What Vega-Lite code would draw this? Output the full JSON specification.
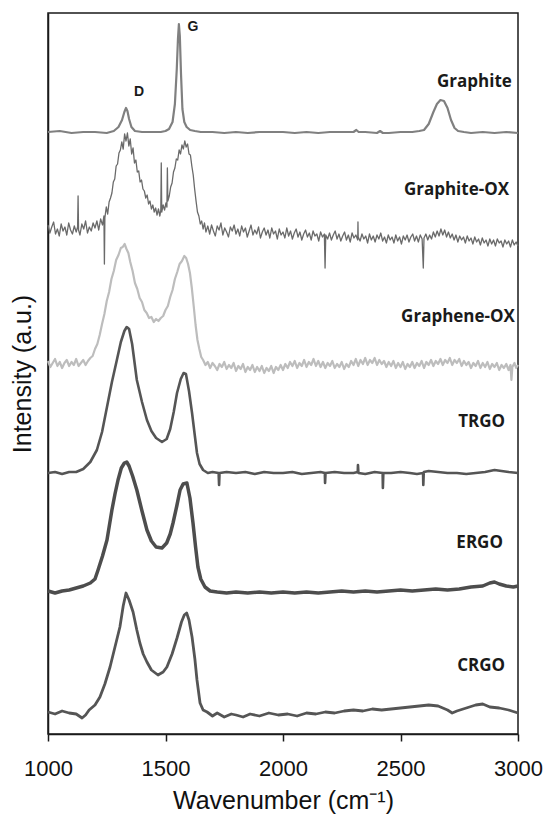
{
  "$schema": "https://vega.github.io/schema/vega-lite/v6.json",
  "width": 470,
  "height": 721,
  "autosize": {"type": "none"},
  "padding": {"left": 48, "top": 13, "right": 31, "bottom": 82},
  "background": "white",
  "config": {
    "view": {"stroke": "#1a1a1a", "strokeWidth": 1.5},
    "axis": {
      "grid": false,
      "domainColor": "#1a1a1a",
      "domainWidth": 1.5,
      "labelFont": "Liberation Sans",
      "titleFont": "Liberation Sans",
      "titleFontWeight": "normal",
      "titleColor": "#111111",
      "labelColor": "#111111"
    }
  },
  "datasets": {
    "graphite": [
      {"wn":1000,"int":602},{"wn":1050,"int":603},{"wn":1100,"int":601},{"wn":1150,"int":602},{"wn":1200,"int":602},{"wn":1250,"int":601},{"wn":1280,"int":603},{"wn":1300,"int":607},{"wn":1315,"int":614},{"wn":1325,"int":622},{"wn":1332,"int":626},{"wn":1338,"int":623},{"wn":1345,"int":615},{"wn":1355,"int":607},{"wn":1370,"int":603},{"wn":1400,"int":602},{"wn":1450,"int":602},{"wn":1480,"int":602},{"wn":1500,"int":603},{"wn":1515,"int":605},{"wn":1530,"int":612},{"wn":1540,"int":630},{"wn":1548,"int":665},{"wn":1553,"int":695},{"wn":1557,"int":710},{"wn":1561,"int":698},{"wn":1566,"int":660},{"wn":1572,"int":625},{"wn":1580,"int":612},{"wn":1590,"int":607},{"wn":1605,"int":604},{"wn":1625,"int":603},{"wn":1650,"int":602},{"wn":1700,"int":602},{"wn":1750,"int":601},{"wn":1800,"int":602},{"wn":1850,"int":601},{"wn":1900,"int":602},{"wn":1950,"int":602},{"wn":2000,"int":602},{"wn":2050,"int":601},{"wn":2100,"int":602},{"wn":2150,"int":601},{"wn":2200,"int":602},{"wn":2250,"int":602},{"wn":2300,"int":602},{"wn":2312,"int":604},{"wn":2322,"int":602},{"wn":2350,"int":602},{"wn":2400,"int":601},{"wn":2413,"int":603},{"wn":2425,"int":601},{"wn":2450,"int":601},{"wn":2500,"int":602},{"wn":2550,"int":602},{"wn":2580,"int":603},{"wn":2600,"int":604},{"wn":2620,"int":610},{"wn":2640,"int":622},{"wn":2655,"int":630},{"wn":2670,"int":634},{"wn":2685,"int":633},{"wn":2700,"int":626},{"wn":2715,"int":614},{"wn":2730,"int":606},{"wn":2745,"int":603},{"wn":2770,"int":602},{"wn":2800,"int":601},{"wn":2850,"int":602},{"wn":2900,"int":601},{"wn":2950,"int":602},{"wn":3000,"int":601}
    ],
    "graphite_ox": [
      {"wn":1000,"int":509},{"wn":1008,"int":501},{"wn":1016,"int":507},{"wn":1024,"int":512},{"wn":1032,"int":500},{"wn":1040,"int":505},{"wn":1048,"int":498},{"wn":1056,"int":510},{"wn":1064,"int":503},{"wn":1072,"int":507},{"wn":1080,"int":499},{"wn":1088,"int":511},{"wn":1096,"int":504},{"wn":1104,"int":500},{"wn":1112,"int":508},{"wn":1120,"int":502},{"wn":1126,"int":507},{"wn":1128,"int":538},{"wn":1130,"int":504},{"wn":1136,"int":499},{"wn":1144,"int":510},{"wn":1152,"int":505},{"wn":1160,"int":513},{"wn":1168,"int":501},{"wn":1176,"int":507},{"wn":1184,"int":503},{"wn":1192,"int":511},{"wn":1200,"int":506},{"wn":1208,"int":513},{"wn":1216,"int":504},{"wn":1224,"int":515},{"wn":1232,"int":509},{"wn":1238,"int":518},{"wn":1240,"int":470},{"wn":1242,"int":516},{"wn":1248,"int":527},{"wn":1254,"int":520},{"wn":1260,"int":532},{"wn":1266,"int":536},{"wn":1272,"int":541},{"wn":1278,"int":552},{"wn":1284,"int":555},{"wn":1290,"int":568},{"wn":1296,"int":570},{"wn":1302,"int":581},{"wn":1308,"int":584},{"wn":1314,"int":592},{"wn":1320,"int":585},{"wn":1326,"int":600},{"wn":1332,"int":593},{"wn":1338,"int":601},{"wn":1344,"int":588},{"wn":1350,"int":595},{"wn":1356,"int":580},{"wn":1362,"int":586},{"wn":1368,"int":571},{"wn":1374,"int":574},{"wn":1380,"int":562},{"wn":1386,"int":563},{"wn":1392,"int":552},{"wn":1398,"int":554},{"wn":1404,"int":545},{"wn":1410,"int":543},{"wn":1416,"int":536},{"wn":1422,"int":539},{"wn":1428,"int":530},{"wn":1434,"int":533},{"wn":1440,"int":525},{"wn":1446,"int":529},{"wn":1452,"int":522},{"wn":1458,"int":526},{"wn":1464,"int":519},{"wn":1470,"int":525},{"wn":1476,"int":518},{"wn":1480,"int":524},{"wn":1482,"int":571},{"wn":1484,"int":522},{"wn":1490,"int":529},{"wn":1496,"int":524},{"wn":1502,"int":531},{"wn":1506,"int":527},{"wn":1508,"int":566},{"wn":1510,"int":533},{"wn":1516,"int":538},{"wn":1522,"int":547},{"wn":1528,"int":551},{"wn":1534,"int":562},{"wn":1540,"int":566},{"wn":1546,"int":575},{"wn":1552,"int":574},{"wn":1558,"int":584},{"wn":1564,"int":580},{"wn":1570,"int":589},{"wn":1576,"int":585},{"wn":1582,"int":593},{"wn":1588,"int":587},{"wn":1594,"int":590},{"wn":1600,"int":580},{"wn":1606,"int":579},{"wn":1612,"int":568},{"wn":1618,"int":559},{"wn":1624,"int":545},{"wn":1630,"int":533},{"wn":1636,"int":522},{"wn":1642,"int":518},{"wn":1648,"int":510},{"wn":1654,"int":513},{"wn":1660,"int":505},{"wn":1666,"int":511},{"wn":1672,"int":502},{"wn":1680,"int":508},
      {"wn":1688,"int":500},{"wn":1696,"int":509},{"wn":1704,"int":503},{"wn":1712,"int":498},{"wn":1720,"int":508},{"wn":1728,"int":504},{"wn":1736,"int":511},{"wn":1744,"int":499},{"wn":1752,"int":506},{"wn":1760,"int":502},{"wn":1768,"int":497},{"wn":1776,"int":507},{"wn":1784,"int":503},{"wn":1792,"int":509},{"wn":1800,"int":500},{"wn":1808,"int":505},{"wn":1816,"int":498},{"wn":1824,"int":508},{"wn":1832,"int":502},{"wn":1840,"int":506},{"wn":1848,"int":497},{"wn":1856,"int":503},{"wn":1864,"int":509},{"wn":1872,"int":499},{"wn":1880,"int":504},{"wn":1888,"int":500},{"wn":1896,"int":507},{"wn":1904,"int":496},{"wn":1912,"int":502},{"wn":1920,"int":506},{"wn":1928,"int":499},{"wn":1936,"int":504},{"wn":1944,"int":496},{"wn":1952,"int":506},{"wn":1960,"int":500},{"wn":1968,"int":503},{"wn":1976,"int":495},{"wn":1984,"int":505},{"wn":1992,"int":499},{"wn":2000,"int":502},{"wn":2008,"int":496},{"wn":2016,"int":506},{"wn":2024,"int":498},{"wn":2032,"int":503},{"wn":2040,"int":495},{"wn":2048,"int":501},{"wn":2056,"int":505},{"wn":2064,"int":497},{"wn":2072,"int":502},{"wn":2080,"int":494},{"wn":2088,"int":500},{"wn":2096,"int":504},{"wn":2104,"int":497},{"wn":2112,"int":501},{"wn":2120,"int":494},{"wn":2128,"int":503},{"wn":2136,"int":498},{"wn":2144,"int":500},{"wn":2152,"int":493},{"wn":2160,"int":502},{"wn":2168,"int":497},{"wn":2176,"int":500},{"wn":2179,"int":466},{"wn":2182,"int":499},{"wn":2190,"int":495},{"wn":2198,"int":501},{"wn":2206,"int":494},{"wn":2214,"int":499},{"wn":2222,"int":503},{"wn":2230,"int":495},{"wn":2238,"int":500},{"wn":2246,"int":493},{"wn":2254,"int":498},{"wn":2262,"int":502},{"wn":2270,"int":494},{"wn":2278,"int":499},{"wn":2286,"int":492},{"wn":2294,"int":501},{"wn":2302,"int":496},{"wn":2310,"int":499},{"wn":2318,"int":494},{"wn":2319,"int":512},{"wn":2320,"int":497},{"wn":2328,"int":493},{"wn":2336,"int":500},{"wn":2344,"int":495},{"wn":2352,"int":498},{"wn":2360,"int":491},{"wn":2368,"int":500},{"wn":2376,"int":494},{"wn":2384,"int":498},{"wn":2392,"int":492},{"wn":2400,"int":499},{"wn":2408,"int":495},{"wn":2416,"int":501},{"wn":2424,"int":493},{"wn":2432,"int":497},{"wn":2440,"int":491},{"wn":2448,"int":499},{"wn":2456,"int":494},{"wn":2464,"int":497},{"wn":2472,"int":491},{"wn":2480,"int":499},{"wn":2488,"int":493},{"wn":2496,"int":497},{"wn":2504,"int":490},{"wn":2512,"int":498},{"wn":2520,"int":494},{"wn":2528,"int":499},{"wn":2536,"int":492},{"wn":2544,"int":497},{"wn":2552,"int":500},{"wn":2560,"int":493},{"wn":2568,"int":498},{"wn":2576,"int":492},{"wn":2584,"int":499},{"wn":2592,"int":495},{"wn":2597,"int":466},{"wn":2600,"int":496},{"wn":2608,"int":500},{"wn":2616,"int":494},{"wn":2624,"int":499},{"wn":2632,"int":495},{"wn":2640,"int":502},{"wn":2648,"int":497},{"wn":2656,"int":503},{"wn":2664,"int":498},{"wn":2672,"int":505},{"wn":2680,"int":499},{"wn":2688,"int":504},{"wn":2696,"int":497},{"wn":2704,"int":502},{"wn":2712,"int":496},{"wn":2720,"int":500},{"wn":2728,"int":494},{"wn":2736,"int":499},{"wn":2744,"int":492},{"wn":2752,"int":498},{"wn":2760,"int":494},{"wn":2768,"int":497},{"wn":2776,"int":491},{"wn":2784,"int":498},{"wn":2792,"int":493},{"wn":2800,"int":496},{"wn":2808,"int":490},{"wn":2816,"int":497},{"wn":2824,"int":492},{"wn":2832,"int":495},{"wn":2840,"int":489},{"wn":2848,"int":496},{"wn":2856,"int":491},{"wn":2864,"int":494},{"wn":2872,"int":488},{"wn":2880,"int":495},{"wn":2888,"int":490},{"wn":2896,"int":494},{"wn":2904,"int":488},{"wn":2912,"int":495},{"wn":2920,"int":491},{"wn":2928,"int":493},{"wn":2936,"int":487},{"wn":2944,"int":494},{"wn":2952,"int":490},{"wn":2960,"int":493},{"wn":2968,"int":487},{"wn":2976,"int":494},{"wn":2984,"int":489},{"wn":2992,"int":492},{"wn":3000,"int":488}
    ],
    "graphene_ox": [
      {"wn":1000,"int":373},{"wn":1010,"int":367},{"wn":1020,"int":371},{"wn":1030,"int":375},{"wn":1040,"int":368},{"wn":1050,"int":372},{"wn":1060,"int":366},{"wn":1070,"int":371},{"wn":1080,"int":374},{"wn":1090,"int":368},{"wn":1100,"int":372},{"wn":1110,"int":369},{"wn":1120,"int":375},{"wn":1130,"int":368},{"wn":1140,"int":371},{"wn":1150,"int":374},{"wn":1160,"int":369},{"wn":1170,"int":373},{"wn":1180,"int":376},{"wn":1190,"int":378},{"wn":1200,"int":385},{"wn":1210,"int":390},{"wn":1220,"int":399},{"wn":1230,"int":410},{"wn":1240,"int":420},{"wn":1250,"int":433},{"wn":1260,"int":442},{"wn":1270,"int":455},{"wn":1280,"int":463},{"wn":1290,"int":474},{"wn":1300,"int":479},{"wn":1310,"int":486},{"wn":1318,"int":487},{"wn":1326,"int":490},{"wn":1334,"int":485},{"wn":1342,"int":481},{"wn":1350,"int":472},{"wn":1360,"int":463},{"wn":1370,"int":451},{"wn":1380,"int":445},{"wn":1390,"int":436},{"wn":1400,"int":432},{"wn":1410,"int":424},{"wn":1420,"int":421},{"wn":1430,"int":416},{"wn":1440,"int":417},{"wn":1450,"int":412},{"wn":1460,"int":415},{"wn":1470,"int":413},{"wn":1480,"int":416},{"wn":1490,"int":418},{"wn":1500,"int":424},{"wn":1510,"int":428},{"wn":1520,"int":437},{"wn":1530,"int":444},{"wn":1540,"int":455},{"wn":1550,"int":462},{"wn":1560,"int":470},{"wn":1570,"int":473},{"wn":1580,"int":478},{"wn":1588,"int":476},{"wn":1596,"int":470},{"wn":1604,"int":461},{"wn":1612,"int":446},{"wn":1620,"int":428},{"wn":1628,"int":409},{"wn":1636,"int":394},{"wn":1644,"int":385},{"wn":1652,"int":377},{"wn":1660,"int":374},{"wn":1670,"int":369},{"wn":1680,"int":372},
      {"wn":1690,"int":366},{"wn":1700,"int":371},{"wn":1710,"int":368},{"wn":1720,"int":364},{"wn":1730,"int":370},{"wn":1740,"int":367},{"wn":1750,"int":372},{"wn":1760,"int":365},{"wn":1770,"int":369},{"wn":1780,"int":366},{"wn":1790,"int":371},{"wn":1800,"int":363},{"wn":1810,"int":368},{"wn":1820,"int":365},{"wn":1830,"int":370},{"wn":1840,"int":362},{"wn":1850,"int":367},{"wn":1860,"int":364},{"wn":1870,"int":369},{"wn":1880,"int":362},{"wn":1890,"int":367},{"wn":1900,"int":363},{"wn":1910,"int":368},{"wn":1920,"int":361},{"wn":1930,"int":366},{"wn":1940,"int":363},{"wn":1950,"int":368},{"wn":1960,"int":361},{"wn":1970,"int":367},{"wn":1980,"int":364},{"wn":1990,"int":369},{"wn":2000,"int":364},{"wn":2010,"int":370},{"wn":2020,"int":366},{"wn":2030,"int":372},{"wn":2040,"int":368},{"wn":2050,"int":373},{"wn":2060,"int":366},{"wn":2070,"int":371},{"wn":2080,"int":368},{"wn":2090,"int":374},{"wn":2100,"int":367},{"wn":2110,"int":372},{"wn":2120,"int":369},{"wn":2130,"int":375},{"wn":2140,"int":368},{"wn":2150,"int":373},{"wn":2160,"int":367},{"wn":2170,"int":372},{"wn":2180,"int":366},{"wn":2190,"int":371},{"wn":2200,"int":368},{"wn":2210,"int":373},{"wn":2220,"int":366},{"wn":2230,"int":370},{"wn":2240,"int":367},{"wn":2250,"int":372},{"wn":2260,"int":365},{"wn":2270,"int":370},{"wn":2280,"int":367},{"wn":2290,"int":373},{"wn":2300,"int":369},{"wn":2310,"int":375},{"wn":2320,"int":368},{"wn":2330,"int":374},{"wn":2340,"int":370},{"wn":2350,"int":376},{"wn":2360,"int":369},{"wn":2370,"int":374},{"wn":2380,"int":371},{"wn":2390,"int":376},{"wn":2400,"int":369},{"wn":2410,"int":374},{"wn":2420,"int":370},{"wn":2430,"int":373},{"wn":2440,"int":367},{"wn":2450,"int":372},{"wn":2460,"int":368},{"wn":2470,"int":373},{"wn":2480,"int":366},{"wn":2490,"int":371},{"wn":2500,"int":367},{"wn":2510,"int":372},{"wn":2520,"int":365},{"wn":2530,"int":370},{"wn":2540,"int":367},{"wn":2550,"int":372},{"wn":2560,"int":366},{"wn":2570,"int":371},{"wn":2580,"int":368},{"wn":2590,"int":373},{"wn":2600,"int":366},{"wn":2610,"int":372},{"wn":2620,"int":369},{"wn":2630,"int":374},{"wn":2640,"int":368},{"wn":2650,"int":373},{"wn":2660,"int":370},{"wn":2670,"int":375},{"wn":2680,"int":369},{"wn":2690,"int":374},{"wn":2700,"int":371},{"wn":2710,"int":376},{"wn":2720,"int":369},{"wn":2730,"int":374},{"wn":2740,"int":371},{"wn":2750,"int":375},{"wn":2760,"int":368},{"wn":2770,"int":373},{"wn":2780,"int":369},{"wn":2790,"int":372},{"wn":2800,"int":366},{"wn":2810,"int":371},{"wn":2820,"int":368},{"wn":2830,"int":373},{"wn":2840,"int":366},{"wn":2850,"int":371},{"wn":2860,"int":367},{"wn":2870,"int":372},{"wn":2880,"int":365},{"wn":2890,"int":370},{"wn":2900,"int":367},{"wn":2910,"int":371},{"wn":2920,"int":364},{"wn":2930,"int":369},{"wn":2940,"int":366},{"wn":2950,"int":370},{"wn":2960,"int":364},{"wn":2968,"int":369},{"wn":2972,"int":354},{"wn":2976,"int":367},{"wn":2985,"int":371},{"wn":2992,"int":366},{"wn":3000,"int":369}
    ],
    "trgo": [
      {"wn":1000,"int":261},{"wn":1030,"int":262},{"wn":1060,"int":260},{"wn":1090,"int":262},{"wn":1120,"int":262},{"wn":1150,"int":265},{"wn":1180,"int":272},{"wn":1208,"int":284},{"wn":1230,"int":302},{"wn":1251,"int":327},{"wn":1272,"int":352},{"wn":1293,"int":374},{"wn":1310,"int":392},{"wn":1325,"int":403},{"wn":1335,"int":407},{"wn":1345,"int":405},{"wn":1358,"int":390},{"wn":1378,"int":354},{"wn":1400,"int":332},{"wn":1421,"int":314},{"wn":1440,"int":303},{"wn":1460,"int":296},{"wn":1485,"int":292},{"wn":1505,"int":295},{"wn":1520,"int":305},{"wn":1535,"int":322},{"wn":1549,"int":341},{"wn":1565,"int":355},{"wn":1577,"int":361},{"wn":1587,"int":360},{"wn":1600,"int":343},{"wn":1613,"int":321},{"wn":1625,"int":298},{"wn":1634,"int":281},{"wn":1645,"int":270},{"wn":1660,"int":264},{"wn":1680,"int":261},{"wn":1700,"int":262},{"wn":1726,"int":261},{"wn":1728,"int":249},{"wn":1730,"int":261},{"wn":1760,"int":262},{"wn":1800,"int":261},{"wn":1840,"int":262},{"wn":1880,"int":260},{"wn":1920,"int":262},{"wn":1960,"int":261},{"wn":2000,"int":261},{"wn":2040,"int":262},{"wn":2080,"int":260},{"wn":2120,"int":261},{"wn":2160,"int":262},{"wn":2178,"int":261},{"wn":2179,"int":251},{"wn":2181,"int":261},{"wn":2220,"int":262},{"wn":2260,"int":261},{"wn":2300,"int":261},{"wn":2318,"int":262},{"wn":2319,"int":269},{"wn":2321,"int":261},{"wn":2350,"int":260},{"wn":2390,"int":262},{"wn":2424,"int":261},{"wn":2425,"int":246},{"wn":2427,"int":261},{"wn":2460,"int":261},{"wn":2500,"int":262},{"wn":2540,"int":261},{"wn":2570,"int":260},{"wn":2596,"int":261},{"wn":2597,"int":249},{"wn":2599,"int":262},{"wn":2620,"int":263},{"wn":2660,"int":262},{"wn":2700,"int":261},{"wn":2740,"int":261},{"wn":2780,"int":260},{"wn":2820,"int":261},{"wn":2860,"int":262},{"wn":2900,"int":264},{"wn":2930,"int":263},{"wn":2960,"int":262},{"wn":3000,"int":261}
    ],
    "ergo": [
      {"wn":1000,"int":143},{"wn":1030,"int":141},{"wn":1060,"int":143},{"wn":1090,"int":144},{"wn":1120,"int":146},{"wn":1150,"int":148},{"wn":1180,"int":151},{"wn":1200,"int":155},{"wn":1213,"int":164},{"wn":1232,"int":178},{"wn":1251,"int":194},{"wn":1272,"int":224},{"wn":1285,"int":240},{"wn":1298,"int":254},{"wn":1312,"int":266},{"wn":1325,"int":271},{"wn":1335,"int":272},{"wn":1345,"int":268},{"wn":1360,"int":258},{"wn":1378,"int":244},{"wn":1400,"int":223},{"wn":1421,"int":204},{"wn":1440,"int":193},{"wn":1460,"int":187},{"wn":1485,"int":186},{"wn":1505,"int":191},{"wn":1520,"int":200},{"wn":1532,"int":211},{"wn":1548,"int":228},{"wn":1562,"int":244},{"wn":1575,"int":250},{"wn":1591,"int":251},{"wn":1604,"int":236},{"wn":1617,"int":211},{"wn":1628,"int":187},{"wn":1638,"int":167},{"wn":1650,"int":155},{"wn":1668,"int":147},{"wn":1690,"int":143},{"wn":1720,"int":142},{"wn":1760,"int":141},{"wn":1800,"int":142},{"wn":1850,"int":141},{"wn":1900,"int":142},{"wn":1950,"int":141},{"wn":2000,"int":142},{"wn":2050,"int":141},{"wn":2100,"int":142},{"wn":2150,"int":141},{"wn":2200,"int":142},{"wn":2250,"int":143},{"wn":2300,"int":142},{"wn":2350,"int":143},{"wn":2400,"int":142},{"wn":2450,"int":143},{"wn":2500,"int":144},{"wn":2550,"int":143},{"wn":2600,"int":144},{"wn":2650,"int":145},{"wn":2700,"int":144},{"wn":2750,"int":145},{"wn":2800,"int":147},{"wn":2850,"int":148},{"wn":2880,"int":151},{"wn":2900,"int":152},{"wn":2920,"int":150},{"wn":2950,"int":148},{"wn":2980,"int":147},{"wn":3000,"int":148}
    ],
    "crgo": [
      {"wn":1000,"int":22},{"wn":1030,"int":20},{"wn":1060,"int":23},{"wn":1090,"int":21},{"wn":1120,"int":20},{"wn":1145,"int":16},{"wn":1160,"int":19},{"wn":1175,"int":24},{"wn":1200,"int":29},{"wn":1221,"int":37},{"wn":1242,"int":50},{"wn":1264,"int":67},{"wn":1285,"int":87},{"wn":1306,"int":107},{"wn":1320,"int":128},{"wn":1332,"int":141},{"wn":1345,"int":134},{"wn":1362,"int":122},{"wn":1378,"int":104},{"wn":1391,"int":91},{"wn":1405,"int":80},{"wn":1421,"int":72},{"wn":1440,"int":64},{"wn":1468,"int":59},{"wn":1490,"int":62},{"wn":1506,"int":67},{"wn":1528,"int":80},{"wn":1549,"int":96},{"wn":1568,"int":112},{"wn":1580,"int":119},{"wn":1590,"int":121},{"wn":1600,"int":114},{"wn":1613,"int":97},{"wn":1625,"int":75},{"wn":1634,"int":54},{"wn":1647,"int":31},{"wn":1660,"int":24},{"wn":1677,"int":22},{"wn":1700,"int":18},{"wn":1720,"int":21},{"wn":1750,"int":17},{"wn":1780,"int":20},{"wn":1800,"int":19},{"wn":1830,"int":17},{"wn":1860,"int":20},{"wn":1900,"int":18},{"wn":1940,"int":21},{"wn":1980,"int":19},{"wn":2020,"int":20},{"wn":2060,"int":18},{"wn":2100,"int":21},{"wn":2140,"int":20},{"wn":2180,"int":22},{"wn":2220,"int":21},{"wn":2260,"int":23},{"wn":2300,"int":24},{"wn":2340,"int":23},{"wn":2380,"int":25},{"wn":2420,"int":24},{"wn":2460,"int":25},{"wn":2500,"int":26},{"wn":2540,"int":27},{"wn":2580,"int":28},{"wn":2620,"int":29},{"wn":2660,"int":28},{"wn":2700,"int":24},{"wn":2720,"int":21},{"wn":2740,"int":23},{"wn":2780,"int":26},{"wn":2820,"int":29},{"wn":2850,"int":30},{"wn":2880,"int":27},{"wn":2920,"int":26},{"wn":2960,"int":24},{"wn":3000,"int":21}
    ],
    "sample_labels": [
      {"label":"Graphite","wn":2974,"int":652},
      {"label":"Graphite-OX","wn":2962,"int":544},
      {"label":"Graphene-OX","wn":2987,"int":417},
      {"label":"TRGO","wn":2945,"int":312},
      {"label":"ERGO","wn":2936,"int":191},
      {"label":"CRGO","wn":2945,"int":68}
    ],
    "band_labels": [
      {"label":"D","wn":1387,"int":642},
      {"label":"G","wn":1617,"int":707}
    ]
  },
  "encoding": {
    "x": {
      "field": "wn",
      "type": "quantitative",
      "scale": {"domain": [1000, 3000], "nice": false, "zero": false},
      "title": "Wavenumber (cm⁻¹)",
      "axis": {
        "values": [1000, 1500, 2000, 2500, 3000],
        "format": "d",
        "tickColor": "#1a1a1a",
        "tickWidth": 1.5,
        "tickSize": 7,
        "labelFontSize": 22,
        "labelPadding": 17,
        "labelFlush": false,
        "labelOverlap": false,
        "labelBound": false,
        "titleFontSize": 25,
        "titlePadding": 9
      }
    },
    "y": {
      "field": "int",
      "type": "quantitative",
      "scale": {"domain": [0, 721], "nice": false, "zero": false},
      "title": "Intensity (a.u.)",
      "axis": {
        "labels": false,
        "ticks": false,
        "titleFontSize": 25,
        "titlePadding": 13
      }
    }
  },
  "layer": [
    {"data": {"name": "graphite"}, "mark": {"type": "line", "color": "#808080", "strokeWidth": 2.2, "strokeJoin": "round"}},
    {"data": {"name": "graphite_ox"}, "mark": {"type": "line", "color": "#6a6a6a", "strokeWidth": 1.3, "strokeJoin": "round"}},
    {"data": {"name": "graphene_ox"}, "mark": {"type": "line", "color": "#bdbdbd", "strokeWidth": 2.2, "strokeJoin": "round"}},
    {"data": {"name": "trgo"}, "mark": {"type": "line", "color": "#555555", "strokeWidth": 2.6, "strokeJoin": "round"}},
    {"data": {"name": "ergo"}, "mark": {"type": "line", "color": "#4d4d4d", "strokeWidth": 3.5, "strokeJoin": "round"}},
    {"data": {"name": "crgo"}, "mark": {"type": "line", "color": "#555555", "strokeWidth": 2.8, "strokeJoin": "round"}},
    {
      "data": {"name": "sample_labels"},
      "mark": {"type": "text", "align": "right", "baseline": "middle", "font": "Open Sans", "fontWeight": "bold", "fontSize": 17, "color": "#1a1a1a"},
      "encoding": {"text": {"field": "label", "type": "nominal"}}
    },
    {
      "data": {"name": "band_labels"},
      "mark": {"type": "text", "align": "center", "baseline": "middle", "font": "Liberation Sans", "fontWeight": "bold", "fontSize": 14, "color": "#1a1a1a"},
      "encoding": {"text": {"field": "label", "type": "nominal"}}
    }
  ]
}
